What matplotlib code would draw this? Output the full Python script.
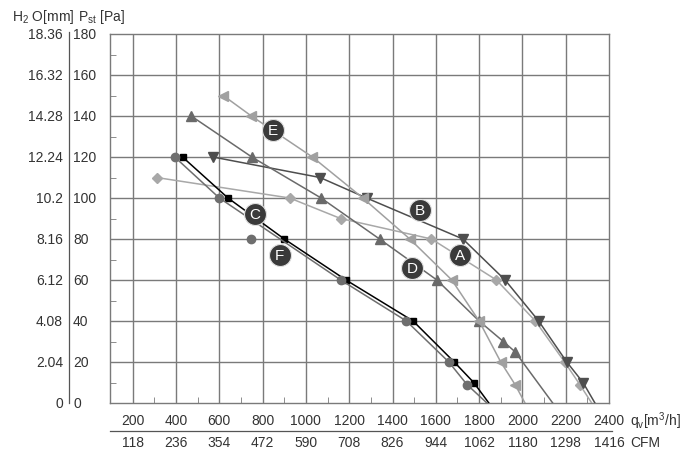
import numpy as np
import matplotlib
matplotlib.use("Agg")
import matplotlib.pyplot as plt
from matplotlib.lines import Line2D

plt.rcParams['font.family'] = ['Liberation Sans', 'DejaVu Sans']

# 풍량 [m3/h] / 정압 [Pa] 곡선 데이터
a_q = [310, 925, 1160, 1580, 1880, 2060, 2195, 2265, 2320]
a_p = [110, 100, 90, 80, 60, 40, 20, 9, 0]

b_q = [570, 1065, 1280, 1725, 1920, 2075, 2205, 2280, 2335]
b_p = [120, 110, 100, 80, 60, 40, 20, 10, 0]

c_q = [430, 640, 900, 1185, 1495, 1685, 1775, 1845]
c_p = [120, 100, 80, 60, 40, 20, 10, 0]

d_q = [470, 750, 1070, 1340, 1605, 1800, 1912, 1966, 2140]
d_p = [140, 120, 100, 80, 60, 40, 30, 25, 0]

e_q = [618, 748, 1030, 1263, 1480, 1674, 1800, 1900, 1966, 2012]
e_p = [150, 140, 120, 100, 80, 60, 40, 20, 9, 0]

f_q = [394, 600, 1161, 1464, 1660, 1744, 1836]
f_p = [120, 100, 60, 40, 20, 9, 0]
f_extra_q = [745]   # 곡선에서 벗어난 측정점
f_extra_p = [80]

# 축 눈금
q_ticks = [200, 400, 600, 800, 1000, 1200, 1400, 1600, 1800, 2000, 2200, 2400]
cfm_labels = ["118", "236", "354", "472", "590", "708", "826", "944", "1062", "1180", "1298", "1416"]
pa_ticks = [0, 20, 40, 60, 80, 100, 120, 140, 160, 180]
mm_labels = ["0", "2.04", "4.08", "6.12", "8.16", "10.2", "12.24", "14.28", "16.32", "18.36"]

# 곡선 이름표 위치
tag_names = ["E", "B", "A", "D", "C", "F"]
tag_q = [847, 1526, 1711, 1490, 764, 879]
tag_p = [133, 94, 72, 66, 92, 72]


fig = plt.figure(figsize=(7, 4.64), dpi=100)
ax = fig.add_axes([110/700, 1 - 404/464, 499/700, 369/464])

grid_c = "#7a7a7a"
txt_c = "#333333"
fs = 10

ax.set_xlim(95, 2400)
ax.set_ylim(0, 180)
for q in q_ticks[:-1]:
    ax.axvline(q, color=grid_c, lw=1.0, zorder=1)
for p in pa_ticks[1:-1]:
    ax.axhline(p, color=grid_c, lw=1.0, zorder=1)
for s in ax.spines.values():
    s.set_color(grid_c)
    s.set_linewidth(1.0)

ax.set_xticks(q_ticks)
ax.set_xticklabels([])
ax.set_xticks(np.arange(300, 2400, 200), minor=True)
ax.set_yticks(pa_ticks)
ax.set_yticklabels([])
ax.set_yticks(np.arange(10, 180, 20), minor=True)
ax.tick_params(which="major", length=0)
ax.tick_params(which="minor", direction="in", length=4, color=grid_c)

# 곡선
curves = [
    (a_q, a_p, "#a8a8a8", "D", 5),
    (b_q, b_p, "#4e4e4e", "v", 6.5),
    (c_q, c_p, "#000000", "s", 5),
    (d_q, d_p, "#6a6a6a", "^", 6.5),
    (e_q, e_p, "#a0a0a0", "<", 6.5),
    (f_q, f_p, "#6e6e6e", "o", 6),
]
for q, p, col, mk, ms in curves:
    ax.plot(q, p, color=col, lw=1.1, marker=mk, ms=ms,
            markevery=list(range(len(q) - 1)), zorder=3)
ax.plot(f_extra_q, f_extra_p, "o", color="#6e6e6e", ms=6, zorder=3)

# 이름표 (검은 원 + 흰 글자)
ax.scatter(tag_q, tag_p, s=250, color="#3a3a3a", edgecolors="#e0e0e0",
           linewidths=0.8, zorder=5)
for name, q, p in zip(tag_names, tag_q, tag_p):
    ax.text(q, p, name, color="white", fontsize=11, ha="center", va="center",
            zorder=6)

# 왼쪽 두 줄 눈금 (Pa / mm H2O)
ytr = ax.get_yaxis_transform()
for p, mm in zip(pa_ticks, mm_labels):
    ax.text(-0.074, p, str(p), transform=ytr, ha="left", va="center",
            fontsize=fs, color=txt_c)
    ax.text(-0.094, p, mm, transform=ytr, ha="right", va="center",
            fontsize=fs, color=txt_c)
ax.add_line(Line2D([-0.082, -0.082], [0.0, 181], transform=ytr, color="#555555",
                   lw=0.9, clip_on=False))
fig.text(12/700, 1 - 17/464, r"H$_\mathregular{2}$ O[mm]", fontsize=fs,
         color=txt_c, va="center")
fig.text(78/700, 1 - 17/464, r"P$_\mathregular{st}$ [Pa]", fontsize=fs,
         color=txt_c, va="center")

# 아래 두 줄 눈금 (m3/h / CFM)
xtr = ax.get_xaxis_transform()
for q, cfm in zip(q_ticks, cfm_labels):
    ax.text(q, -0.046, str(q), transform=xtr, ha="center", va="center",
            fontsize=fs, color=txt_c)
    ax.text(q, -0.106, cfm, transform=xtr, ha="center", va="center",
            fontsize=fs, color=txt_c)
ax.add_line(Line2D([0.0, 1.006], [-0.076, -0.076], transform=ax.transAxes,
                   color="#555555", lw=0.9, clip_on=False))
ax.text(1.042, -0.046, r"q$_\mathregular{v}$[m$^\mathregular{3}$/h]",
        transform=ax.transAxes, ha="left", va="center", fontsize=fs, color=txt_c)
ax.text(1.042, -0.106, "CFM", transform=ax.transAxes, ha="left",
        va="center", fontsize=fs, color=txt_c)

plt.savefig("out.png", dpi=100)
print("Saved: out.png")
